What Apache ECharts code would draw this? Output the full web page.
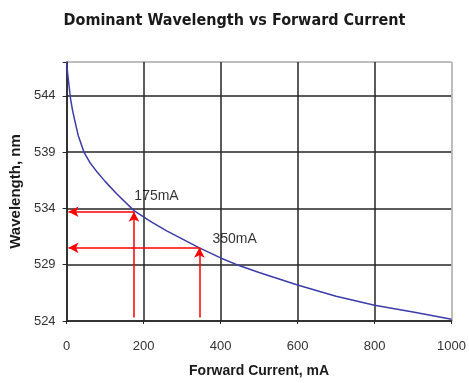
<!DOCTYPE html>
<html>
<head>
<meta charset="utf-8">
<style>
  html, body { margin: 0; padding: 0; background: #fff; }
  #chart { width: 469px; height: 383px; }
</style>
<script src="https://cdn.jsdelivr.net/npm/echarts@6/dist/echarts.min.js"></script>
</head>
<body>
<div id="chart"></div>
<script>
// wavelength axis starts at 524 nm; ticks every 5 nm from there
const BASE = 524
const yTickStep = 5
const yTop = 547

// dominant wavelength curve (mA, nm)
const current = [0, 3, 6, 10, 15, 20, 30, 45, 60, 80, 100, 130, 175, 220, 260, 300, 345, 400, 450, 500, 600, 700, 800, 900, 1000]
const wavelength = [547, 545.9, 545, 543.8, 542.8, 542, 540.5, 539, 538.1, 537.2, 536.4, 535.3, 533.8, 532.8, 532, 531.3, 530.5, 529.6, 528.9, 528.3, 527.2, 526.2, 525.4, 524.8, 524.15]

// marked operating points
const markCurrent = [175, 345]
const markWave = [533.7, 530.5]
const markBottom = 524.3
const markArrowEnd = 5
const markLabels = ['175mA', '350mA']
const labelPos = [[176, 535.1], [379, 531.25]]

const chart = echarts.init(document.getElementById('chart'))

const off = (v) => v - BASE
const dark = '#262626'
const gray = '#a8a8a8'
const font = 'Liberation Sans, Arial, sans-serif'

const arrows = []
markCurrent.forEach((c, i) => {
  arrows.push([{ coord: [c, off(markBottom)] }, { coord: [c, off(markWave[i])] }])
  arrows.push([{ coord: [c, off(markWave[i])] }, { coord: [markArrowEnd, off(markWave[i])] }])
})

chart.setOption({
  animation: false,
  backgroundColor: '#fff',
  title: {
    text: 'Dominant Wavelength vs Forward Current',
    left: 'center',
    top: 8,
    textStyle: { fontFamily: 'DejaVu Sans Condensed, Arial Narrow, sans-serif', fontWeight: 'bold', fontSize: 16, color: '#1a1a1a' },
  },
  grid: { left: 65, right: 13, top: 62, bottom: 58 },
  xAxis: {
    type: 'value',
    min: 0,
    max: 1000,
    interval: 200,
    name: 'Forward Current, mA',
    nameLocation: 'middle',
    nameGap: 43,
    nameTextStyle: { fontFamily: font, fontWeight: 'bold', fontSize: 14, color: '#1a1a1a' },
    axisLine: { lineStyle: { color: dark, width: 1.5 } },
    axisTick: { show: true, length: 3, inside: false, lineStyle: { color: dark } },
    axisLabel: { color: '#333', fontFamily: font, fontSize: 13, margin: 19, formatter: (v) => String(v) },
    splitLine: { show: true, lineStyle: { color: [dark, dark, dark, dark, dark, gray], width: 1.5 } },
  },
  yAxis: {
    type: 'value',
    min: 0,
    max: yTop - BASE,
    interval: yTickStep,
    name: 'Wavelength, nm',
    nameLocation: 'middle',
    nameGap: 38,
    nameTextStyle: { fontFamily: font, fontWeight: 'bold', fontSize: 15, color: '#1a1a1a' },
    axisLine: { show: true, lineStyle: { color: dark, width: 1.5 } },
    axisTick: { show: true, length: 4, lineStyle: { color: dark } },
    axisLabel: {
      color: '#333',
      fontFamily: font,
      fontSize: 13,
      margin: 11,
      formatter: (v) => (v % yTickStep === 0 ? String(v + BASE) : ''),
    },
    splitLine: { show: true, lineStyle: { color: [dark, dark, dark, dark, dark, gray], width: 1.5 } },
  },
  series: [
    {
      type: 'line',
      data: current.map((c, i) => [c, off(wavelength[i])]),
      smooth: false,
      showSymbol: false,
      lineStyle: { color: '#3c3ca8', width: 1.5 },
      z: 3,
      markLine: {
        silent: true,
        symbol: ['none', 'arrow'],
        symbolSize: [8, 10],
        label: { show: false },
        lineStyle: { color: '#ff0000', width: 1.5, type: 'solid' },
        data: arrows,
      },
    },
    {
      type: 'scatter',
      symbolSize: 0,
      data: labelPos.map((p, i) => ({ value: [p[0], off(p[1])], name: markLabels[i] })),
      label: {
        show: true,
        position: 'right',
        distance: 0,
        formatter: (p) => p.name,
        color: '#000',
        fontFamily: font,
        fontSize: 14,
      },
      z: 4,
    },
  ],
})
</script>
</body>
</html>
